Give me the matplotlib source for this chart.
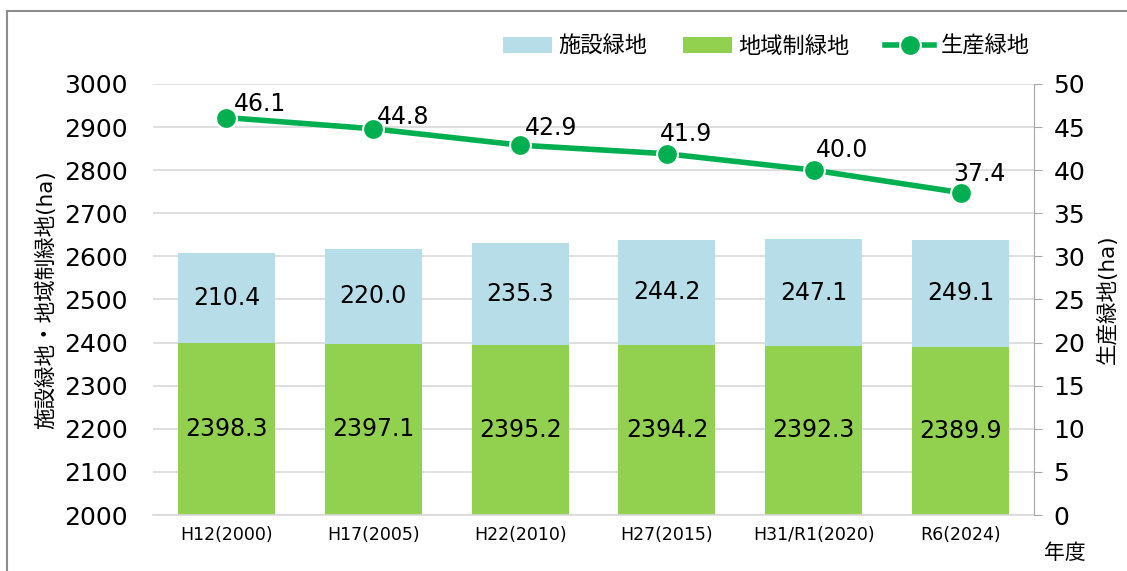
import matplotlib.pyplot as plt
import numpy as np
from matplotlib.patches import Rectangle

plt.rcParams["font.family"] = ["DejaVu Sans", "Noto Sans CJK JP"]

# data
years = ["H12(2000)", "H17(2005)", "H22(2010)", "H27(2015)", "H31/R1(2020)", "R6(2024)"]
chiiki = [2398.3, 2397.1, 2395.2, 2394.2, 2392.3, 2389.9]
shisetsu = [210.4, 220.0, 235.3, 244.2, 247.1, 249.1]
seisan = [46.1, 44.8, 42.9, 41.9, 40.0, 37.4]

# label nudges for the line labels (pixels)
label_off = [(7, 7), (4, 5), (5, 10), (-7, 13), (2, 13), (-7, 12)]

c_blue = "#b7dde8"
c_green = "#92d050"
c_line = "#00b050"
jp = ["Noto Sans CJK JP", "DejaVu Sans"]

fig = plt.figure(figsize=(11.27, 5.71), dpi=100)
ax = fig.add_axes([0.1358, 0.098, 0.7817, 0.755])
ax2 = ax.twinx()

# outer frame
fig.patches.append(Rectangle((7 / 1127, -0.05), 1.2, 1 - 11 / 571 + 0.05,
                             transform=fig.transFigure, fill=False,
                             edgecolor="#8c8c8c", linewidth=1.5))

x = np.arange(len(years))
base = 2000
w = 0.66
g = ax.bar(x, np.array(chiiki) - base, w, bottom=base, color=c_green, label="地域制緑地", zorder=2)
b = ax.bar(x, shisetsu, w, bottom=chiiki, color=c_blue, label="施設緑地", zorder=2)

for i in range(len(years)):
    ax.text(x[i], (base + chiiki[i]) / 2, f"{chiiki[i]:.1f}", ha="center", va="center", fontsize=17, zorder=3)
    ax.text(x[i], chiiki[i] + shisetsu[i] / 2, f"{shisetsu[i]:.1f}", ha="center", va="center", fontsize=17, zorder=3)

ax.set_ylim(2000, 3000)
ax.set_yticks(np.arange(2000, 3001, 100))
ax.set_xlim(-0.5, len(years) - 0.5)
ax.set_xticks(x)
ax.set_xticklabels(years, fontsize=12.5)
ax.grid(axis="y", color="#d9d9d9", linewidth=1.2, zorder=0)
ax.set_axisbelow(True)
for s in ["top", "right", "left"]:
    ax.spines[s].set_visible(False)
ax.spines["bottom"].set_color("#d9d9d9")
ax.spines["bottom"].set_linewidth(1.2)
ax.tick_params(axis="y", length=0, labelsize=18, pad=18)
ax.tick_params(axis="x", length=0, pad=8)
ax.set_ylabel("施設緑地・地域制緑地(ha)", fontsize=15.5, labelpad=6)

ln, = ax2.plot(x, seisan, color=c_line, linewidth=4, marker="o", markersize=15,
               markeredgecolor="white", markeredgewidth=1.5, label="生産緑地", zorder=5)
for i in range(len(years)):
    ax2.annotate(f"{seisan[i]:.1f}", (x[i], seisan[i]), xytext=label_off[i], textcoords="offset pixels",
                 ha="left", va="baseline", fontsize=17)
ax2.set_ylim(0, 50)
ax2.set_yticks(np.arange(0, 51, 5))
for s in ["top", "left", "bottom"]:
    ax2.spines[s].set_visible(False)
ax2.spines["right"].set_color("#a6a6a6")
ax2.tick_params(axis="y", length=6, color="#a6a6a6", labelsize=18, pad=8)
ax2.set_ylabel("生産緑地(ha)", fontsize=15.5, rotation=90, labelpad=8)

fig.text(1065 / 1127, 1 - 553 / 571, "年度", fontsize=15, ha="center", va="center", family=jp)

fig.legend(handles=[b, g, ln], loc="center", bbox_to_anchor=(0.68, 1 - 46 / 571), ncol=3,
           frameon=False, prop={"family": jp, "size": 16}, handlelength=2.2,
           columnspacing=1.6, handletextpad=0.3)

fig.savefig("out.png")
